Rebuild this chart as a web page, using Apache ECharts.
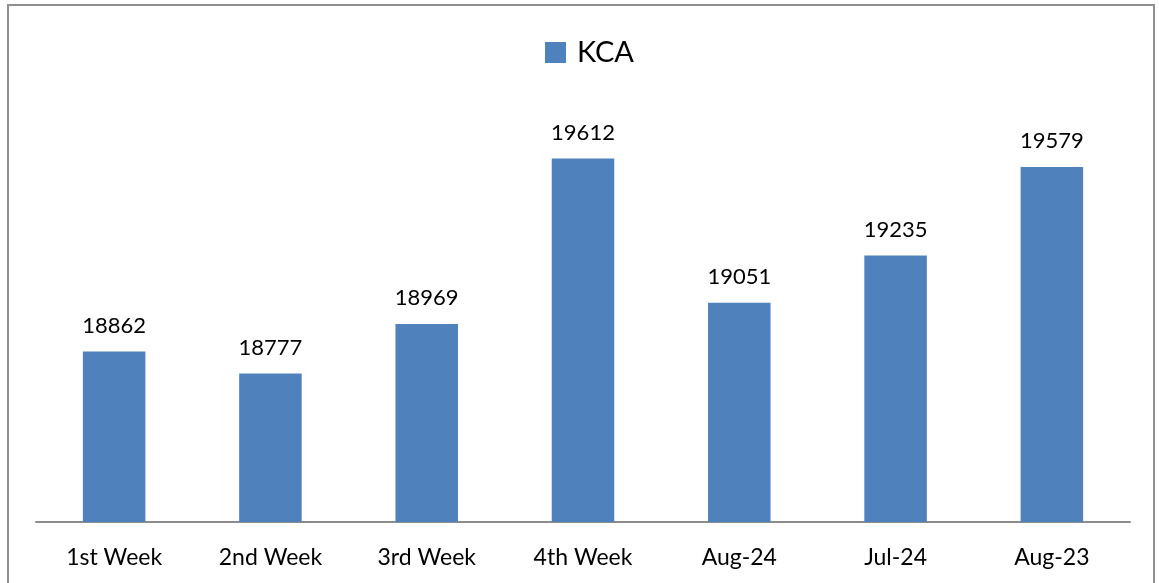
<!DOCTYPE html>
<html>
<head>
<meta charset="utf-8">
<script src="https://cdn.jsdelivr.net/npm/echarts@6/dist/echarts.min.js"></script>
<style>
html,body{margin:0;padding:0;background:#fff;}
#wrap{position:relative;width:1159px;height:583px;overflow:hidden;}
#frame{position:absolute;left:7px;top:4px;width:1148px;height:600px;border:2px solid #8f8f8f;box-sizing:border-box;}
#chart{position:absolute;left:0;top:0;width:1159px;height:583px;}
</style>
</head>
<body>
<div id="wrap">
<div id="frame"></div>
<div id="chart"></div>
</div>
<script>
const categories = ['1st Week', '2nd Week', '3rd Week', '4th Week', 'Aug-24', 'Jul-24', 'Aug-23'];
const seriesName = 'KCA';
const values = [18862, 18777, 18969, 19612, 19051, 19235, 19579];

const chart = echarts.init(document.getElementById('chart'), null, {renderer: 'canvas'});
chart.setOption({
  animation: false,
  backgroundColor: 'transparent',
  textStyle: {fontFamily: 'Lato'},
  legend: {
    top: 33,
    left: 540,
    itemWidth: 21,
    itemHeight: 21,
    itemGap: 10,
    icon: 'rect',
    data: [seriesName],
    textStyle: {fontSize: 29, color: '#000', fontFamily: 'Lato', padding: [0, 0, 0, 6]}
  },
  grid: {left: 36, right: 29, top: 110, bottom: 61, containLabel: false},
  xAxis: {
    type: 'category',
    data: categories,
    axisLine: {lineStyle: {color: '#8c8c8c', width: 2}},
    axisTick: {show: false},
    axisLabel: {fontSize: 23, color: '#000', margin: 24, fontFamily: 'Lato'}
  },
  yAxis: {
    type: 'value',
    min: 18200,
    max: 19800,
    show: false,
    splitLine: {show: false}
  },
  series: [{
    name: seriesName,
    type: 'bar',
    data: values,
    barWidth: '40%',
    itemStyle: {color: '#4F81BD'},
    label: {show: true, position: 'top', distance: 15, fontSize: 22, color: '#000', fontFamily: 'Lato'}
  }]
});
</script>
</body>
</html>
